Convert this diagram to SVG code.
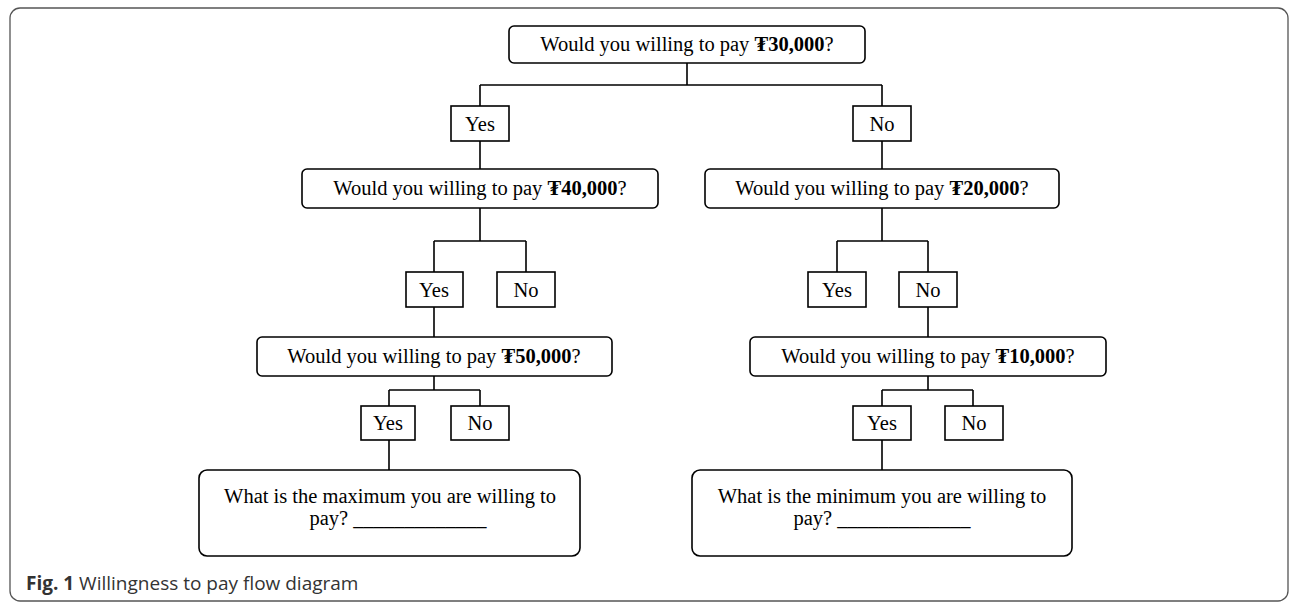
<svg xmlns="http://www.w3.org/2000/svg" width="1292" height="603" viewBox="0 0 1292 603">
<style>
.q{fill:#fff;stroke:#000;stroke-width:1.6}
.o{fill:#fff;stroke:#000;stroke-width:1.6}
.t{font-family:"Liberation Serif","DejaVu Serif",serif;font-size:20.5px;fill:#000;text-anchor:middle}
.b{font-weight:bold}
.c{fill:none;stroke:#000;stroke-width:1.6}
.cap{font-family:"Open Sans","Noto Sans",sans-serif;font-size:19px;fill:#333}
</style>
<rect x="10" y="8" width="1278" height="593" rx="10" fill="#fff" stroke="#555" stroke-width="1.3"/>
<g id="connectors" class="c">
<path d="M687 63V85M480 85H882M480 85V106M882 85V106"/>
<path d="M480 141V169M882 141V169"/>
<path d="M480 208V241M434 241H526M434 241V272M526 241V272"/>
<path d="M882 208V241M837 241H928M837 241V272M928 241V272"/>
<path d="M434 307V337M928 307V337"/>
<path d="M434 376V390M389 390H480M389 390V406M480 390V406"/>
<path d="M928 376V390M882 390H973M882 390V406M973 390V406"/>
<path d="M389 440V470M882 440V470"/>
</g>
<g id="q30"><rect class="q" x="509" y="26" width="356" height="37" rx="5"/><text class="t" x="687" y="51">Would you willing to pay <tspan class="b">₮30,000</tspan>?</text></g>
<g id="yes1"><rect class="o" x="451" y="106" width="58" height="35"/><text class="t" x="480" y="131">Yes</text></g>
<g id="no1"><rect class="o" x="853" y="106" width="58" height="35"/><text class="t" x="882" y="131">No</text></g>
<g id="q40"><rect class="q" x="302" y="169" width="356" height="39" rx="5"/><text class="t" x="480" y="195">Would you willing to pay <tspan class="b">₮40,000</tspan>?</text></g>
<g id="q20"><rect class="q" x="705" y="169" width="354" height="39" rx="5"/><text class="t" x="882" y="195">Would you willing to pay <tspan class="b">₮20,000</tspan>?</text></g>
<g id="yes2"><rect class="o" x="406" y="272" width="57" height="35"/><text class="t" x="434" y="297">Yes</text></g>
<g id="no2"><rect class="o" x="497" y="272" width="58" height="35"/><text class="t" x="526" y="297">No</text></g>
<g id="yes2r"><rect class="o" x="808" y="272" width="58" height="35"/><text class="t" x="837" y="297">Yes</text></g>
<g id="no2r"><rect class="o" x="899" y="272" width="58" height="35"/><text class="t" x="928" y="297">No</text></g>
<g id="q50"><rect class="q" x="257" y="337" width="355" height="39" rx="5"/><text class="t" x="434" y="363">Would you willing to pay <tspan class="b">₮50,000</tspan>?</text></g>
<g id="q10"><rect class="q" x="750" y="337" width="356" height="39" rx="5"/><text class="t" x="928" y="363">Would you willing to pay <tspan class="b">₮10,000</tspan>?</text></g>
<g id="yes3"><rect class="o" x="361" y="406" width="54" height="34"/><text class="t" x="388" y="430">Yes</text></g>
<g id="no3"><rect class="o" x="451" y="406" width="58" height="34"/><text class="t" x="480" y="430">No</text></g>
<g id="yes3r"><rect class="o" x="853" y="406" width="58" height="34"/><text class="t" x="882" y="430">Yes</text></g>
<g id="no3r"><rect class="o" x="945" y="406" width="58" height="34"/><text class="t" x="974" y="430">No</text></g>
<g id="max"><rect class="q" x="199" y="470" width="381" height="86" rx="8"/><text class="t" x="390" y="503">What is the maximum you are willing to</text><text class="t" x="398" y="525">pay? _____________</text></g>
<g id="min"><rect class="q" x="692" y="470" width="380" height="86" rx="8"/><text class="t" x="882" y="503">What is the minimum you are willing to</text><text class="t" x="882" y="525">pay? _____________</text></g>
<g id="caption"><text class="cap" x="26" y="590"><tspan font-weight="bold">Fig. 1</tspan> Willingness to pay flow diagram</text></g>
</svg>
